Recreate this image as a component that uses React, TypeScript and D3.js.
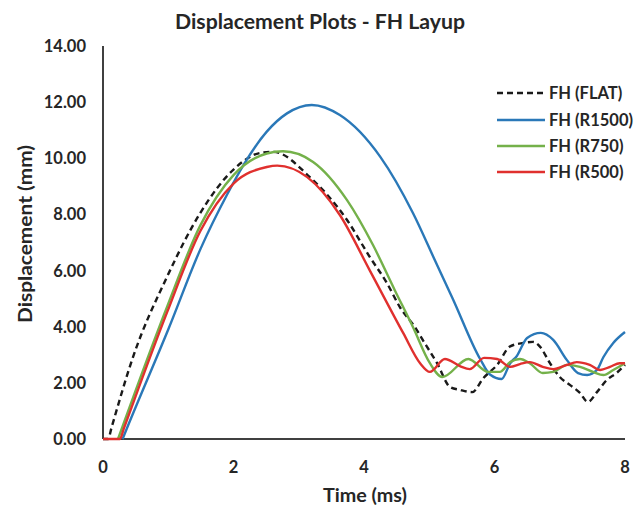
import React from "react";
import * as d3 from "d3";

const xTicks = [0, 2, 4, 6, 8];
const yTicks = [0, 2, 4, 6, 8, 10, 12, 14];

const flatT = [0, 0.08, 0.13, 0.46, 0.98, 1.49, 2.0, 2.41, 2.61, 3.17, 3.74, 4.09, 4.35, 4.55, 4.81, 4.9, 5.12, 5.32, 5.47, 5.66, 5.83, 6.04, 6.24, 6.44, 6.59, 6.7, 6.85, 7.0, 7.16, 7.31, 7.43, 7.57, 7.72, 7.87, 8.0];
const flatV = [0, 0, 0.4, 2.92, 5.77, 8.05, 9.6, 10.19, 10.23, 9.33, 7.8, 6.48, 5.56, 4.7, 3.88, 3.53, 2.7, 1.85, 1.75, 1.67, 2.17, 2.64, 3.3, 3.42, 3.46, 3.28, 2.7, 2.21, 1.92, 1.64, 1.32, 1.67, 2.1, 2.35, 2.64];

const r1500T = [0.3, 0.37, 1.0, 1.5, 1.9, 2.15, 2.51, 2.82, 3.2, 3.63, 4.25, 4.75, 5.09, 5.36, 5.78, 5.93, 6.11, 6.24, 6.34, 6.5, 6.71, 6.9, 7.11, 7.28, 7.42, 7.57, 7.67, 7.82, 8.0];
const r1500V = [0, 0.4, 3.9, 6.8, 8.7, 9.75, 10.95, 11.6, 11.9, 11.54, 10.05, 8.05, 6.35, 5.0, 2.85, 2.3, 2.14, 2.7, 2.95, 3.6, 3.78, 3.53, 2.81, 2.35, 2.28, 2.46, 2.92, 3.42, 3.81];

const r750T = [0.23, 0.3, 0.98, 1.49, 2.0, 2.51, 2.76, 3.22, 3.74, 4.14, 4.47, 4.75, 5.01, 5.2, 5.6, 5.9, 6.08, 6.24, 6.39, 6.54, 6.74, 6.9, 7.11, 7.31, 7.51, 7.67, 7.82, 8.0];
const r750V = [0, 0.45, 4.7, 7.6, 9.4, 10.17, 10.25, 9.87, 8.51, 6.9, 5.31, 3.99, 2.7, 2.21, 2.85, 2.39, 2.39, 2.74, 2.85, 2.7, 2.35, 2.39, 2.64, 2.57, 2.39, 2.28, 2.46, 2.7];

const r500T = [0, 0.26, 0.32, 0.98, 1.49, 2.0, 2.51, 2.67, 3.13, 3.63, 4.09, 4.6, 4.86, 5.01, 5.24, 5.47, 5.62, 5.84, 6.04, 6.24, 6.39, 6.54, 6.74, 6.9, 7.11, 7.26, 7.46, 7.62, 7.77, 7.92, 8.0];
const r500V = [0, 0, 0.38, 4.5, 7.4, 9.1, 9.69, 9.74, 9.33, 7.98, 6.0, 3.78, 2.7, 2.39, 2.85, 2.6, 2.49, 2.89, 2.85, 2.57, 2.67, 2.74, 2.57, 2.49, 2.64, 2.74, 2.64, 2.46, 2.57, 2.7, 2.7];

const seriesNames = ["FH (FLAT)", "FH (R1500)", "FH (R750)", "FH (R500)"];
const seriesT = [flatT, r1500T, r750T, r500T];
const seriesV = [flatV, r1500V, r750V, r500V];
const colors = ["#1a1a1a", "#2a78b8", "#74b14a", "#e0302e"];
const dashes = ["6,4", null, null, null];

const W = 643;
const H = 508;
const FONT = "Lato, 'Open Sans', sans-serif";
const INK = "#262626";

export default function App() {
  const x = d3.scaleLinear().domain([0, 8]).range([103, 625]);
  const y = d3.scaleLinear().domain([0, 14]).range([439, 46]);
  const line = d3
    .line<[number, number]>()
    .x((d) => x(d[0]))
    .y((d) => y(d[1]))
    .curve(d3.curveMonotoneX);

  return (
    <svg
      width={W}
      height={H}
      style={{ position: "absolute", left: 0, top: 0, background: "#fff" }}
      fontFamily={FONT}
    >
      <rect x={0} y={0} width={W} height={H} fill="#fff" />
      <text x={320} y={29} textAnchor="middle" fontSize={20} fontWeight={700} fill={INK} textLength={290} lengthAdjust="spacingAndGlyphs">
        Displacement Plots - FH Layup
      </text>
      {yTicks.map((t) => (
        <text key={t} x={86} y={y(t)} dy="0.36em" textAnchor="end" fontSize={16.5} fontWeight={700} fill={INK}>
          {t.toFixed(2)}
        </text>
      ))}
      {xTicks.map((t) => (
        <text key={t} x={x(t)} y={467} dy="0.36em" textAnchor="middle" fontSize={16.5} fontWeight={700} fill={INK}>
          {t}
        </text>
      ))}
      <text x={365} y={495} dy="0.36em" textAnchor="middle" fontSize={19} fontWeight={700} fill={INK} textLength={84} lengthAdjust="spacingAndGlyphs">
        Time (ms)
      </text>
      <text
        transform={`translate(25,234) rotate(-90)`}
        textAnchor="middle"
        dy="0.36em"
        fontSize={19}
        fontWeight={700}
        fill={INK}
        textLength={178}
        lengthAdjust="spacingAndGlyphs"
      >
        Displacement (mm)
      </text>
      <line x1={x(0)} x2={x(0)} y1={y(14)} y2={y(0)} stroke="#404040" strokeWidth={2} />
      <line x1={x(0)} x2={x(8)} y1={y(0)} y2={y(0)} stroke="#404040" strokeWidth={2} />
      {seriesT.map((ts, i) => (
        <path
          key={i}
          d={line(ts.map((t, k) => [t, seriesV[i][k]] as [number, number])) || ""}
          fill="none"
          stroke={colors[i]}
          strokeWidth={2.4}
          strokeDasharray={dashes[i] || undefined}
        />
      ))}
      {seriesNames.map((n, i) => {
        const ly = [93, 120, 146, 172][i];
        return (
          <g key={n}>
            <line x1={497} x2={545} y1={ly} y2={ly} stroke={colors[i]} strokeWidth={2.4} strokeDasharray={dashes[i] || undefined} />
            <text x={549} y={ly} dy="0.36em" fontSize={16.5} fontWeight={700} fill={INK}>
              {n}
            </text>
          </g>
        );
      })}
    </svg>
  );
}
